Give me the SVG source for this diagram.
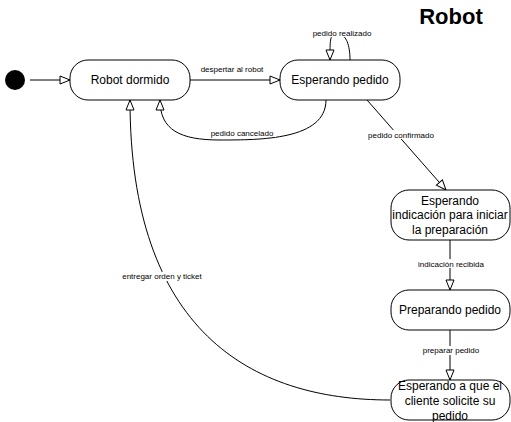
<svg xmlns="http://www.w3.org/2000/svg" width="511" height="422" viewBox="0 0 511 422">
<defs>
<marker id="arr" viewBox="0 0 12 10" refX="11" refY="5" markerWidth="12" markerHeight="10" markerUnits="userSpaceOnUse" orient="auto">
<path d="M1,1 L11,5 L1,9 Z" fill="#fff" stroke="#000" stroke-width="1"/>
</marker>
</defs>
<style>
.n{fill:#fff;stroke:#000;stroke-width:1}
.t{font-family:"Liberation Sans",Arial,sans-serif;font-size:12px;fill:#000;text-anchor:middle}
.l{font-family:"Liberation Sans",Arial,sans-serif;font-size:8px;fill:#000;text-anchor:middle}
.e{fill:none;stroke:#000;stroke-width:1;marker-end:url(#arr)}
.bg{fill:#fff}
</style>
<rect width="511" height="422" fill="#fff"/>
<text x="451" y="24" font-family="'Liberation Sans',Arial,sans-serif" font-size="22" font-weight="bold" text-anchor="middle">Robot</text>
<g id="connectors">
<path class="e" d="M30,80 L70,80"/>
<path class="e" d="M190,80 L280,80"/>
<path class="e" d="M350,60 C350,45 346,35 340,35 L335,35 C330,35 330,40 330,60"/>
<path class="e" d="M326,100 C326,140 260,140 220,140 C180,140 160,130 160,100"/>
<path class="e" d="M367,100 L446,190"/>
<path class="e" d="M450,240 L450,290"/>
<path class="e" d="M450,330 L450,380"/>
<path class="e" d="M390,400 C250,400 130,330 130,100"/>
<rect class="bg" x="312" y="28" width="60" height="9"/>
<text class="l" x="342" y="36">pedido realizado</text>
<text class="l" x="232" y="72">despertar al robot</text>
<rect class="bg" x="208" y="128" width="68" height="9"/>
<text class="l" x="242" y="136">pedido cancelado</text>
<rect class="bg" x="366" y="130" width="71" height="9"/>
<text class="l" x="401" y="138">pedido confirmado</text>
<rect class="bg" x="417" y="259" width="68" height="9"/>
<text class="l" x="451" y="267">indicación recibida</text>
<rect class="bg" x="422" y="346" width="58" height="9"/>
<text class="l" x="451" y="353">preparar pedido</text>
<rect class="bg" x="120" y="272" width="84" height="9"/>
<text class="l" x="162" y="279">entregar orden y ticket</text>
</g>
<g id="start"><circle cx="15" cy="80" r="10" fill="#000"/></g>
<g id="robot-dormido"><rect class="n" x="70" y="60" width="120" height="40" rx="18"/><text class="t" x="130" y="84">Robot dormido</text></g>
<g id="esperando-pedido"><rect class="n" x="280" y="60" width="120" height="40" rx="18"/><text class="t" x="340" y="84">Esperando pedido</text></g>
<g id="esperando-indicacion"><rect class="n" x="391" y="190" width="119" height="50" rx="18"/><text class="t" x="450" y="205">Esperando</text><text class="t" x="450" y="219">indicación para iniciar</text><text class="t" x="450" y="234">la preparación</text></g>
<g id="preparando-pedido"><rect class="n" x="391" y="290" width="119" height="40" rx="18"/><text class="t" x="450" y="314">Preparando pedido</text></g>
<g id="esperando-cliente"><rect class="n" x="391" y="380" width="119" height="40" rx="18"/><text class="t" x="450" y="390">Esperando a que el</text><text class="t" x="450" y="405">cliente solicite su</text><text class="t" x="450" y="420">pedido</text></g>
</svg>
